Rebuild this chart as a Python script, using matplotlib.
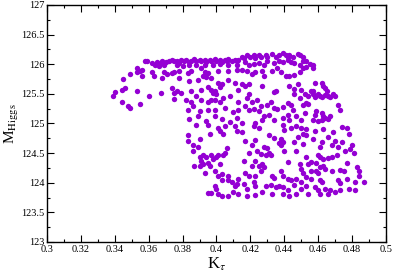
import numpy as np
import matplotlib
matplotlib.use("Agg")
import matplotlib.pyplot as plt
from matplotlib.ticker import MultipleLocator, FuncFormatter

# (K_tau, M_Higgs), grouped by region
left_arc = [
    (0.358,126.05),(0.359,126.05),(0.362,126.02),(0.364,125.99),(0.365,126.04),(0.367,126.02),
    (0.368,126.06),(0.370,126.04),(0.372,126.06),(0.374,126.07),(0.375,126.05),(0.366,125.97),
    (0.369,125.98),(0.353,125.94),(0.356,125.91),(0.353,125.87),(0.355,125.88),(0.349,125.84),
    (0.356,125.81),(0.362,125.87),(0.363,125.81),(0.369,125.87),(0.371,125.84),(0.374,125.85),
    (0.375,125.87),(0.345,125.75),(0.368,125.76),(0.346,125.60),(0.344,125.57),(0.340,125.53),
    (0.339,125.46),(0.353,125.54),(0.360,125.47),(0.367,125.51),(0.374,125.60),(0.375,125.51),
    (0.375,125.42),(0.344,125.37),(0.348,125.29),(0.349,125.26),(0.355,125.33),
]
upper_mid = [
    (0.377,126.06),(0.378,126.02),(0.379,126.08),(0.381,126.05),(0.382,126.08),(0.384,126.04),
    (0.385,126.06),(0.387,126.09),(0.388,126.05),(0.390,126.08),(0.391,126.05),(0.393,126.08),
    (0.394,126.04),(0.396,126.08),(0.397,126.05),(0.399,126.09),(0.400,126.06),(0.402,126.08),
    (0.403,126.04),(0.405,126.08),(0.406,126.05),(0.407,126.09),(0.409,126.06),(0.411,126.08),
    (0.412,126.05),(0.413,126.08),
    (0.377,125.98),(0.380,125.97),(0.384,125.98),(0.388,125.99),(0.393,125.99),(0.398,125.99),
    (0.402,126.00),(0.407,125.99),(0.412,125.99),
    (0.378,125.88),(0.383,125.85),(0.385,125.89),(0.391,125.93),(0.393,125.87),(0.392,125.81),
    (0.395,125.85),(0.401,125.89),(0.407,125.89),(0.412,125.91),(0.378,125.77),(0.384,125.71),
    (0.389,125.74),(0.394,125.78),(0.397,125.76),(0.401,125.68),(0.407,125.74),(0.411,125.68),
    (0.377,125.54),(0.379,125.51),(0.385,125.54),(0.391,125.57),(0.395,125.61),(0.397,125.57),
    (0.398,125.51),(0.399,125.55),(0.400,125.49),(0.402,125.61),(0.403,125.67),(0.413,125.57),
    (0.382,125.40),(0.385,125.36),(0.388,125.46),(0.391,125.39),(0.395,125.37),(0.397,125.39),
    (0.399,125.40),(0.402,125.37),(0.404,125.43),(0.408,125.46),(0.413,125.37),
    (0.383,125.23),(0.386,125.29),(0.390,125.21),(0.395,125.23),(0.399,125.23),(0.405,125.26),
    (0.410,125.20),(0.413,125.23),
    (0.384,125.07),(0.389,125.12),(0.394,125.04),(0.399,125.12),(0.403,125.07),(0.408,125.03),
    (0.412,125.10),
]
upper_right = [
    (0.415,126.13),(0.416,126.11),(0.418,126.16),(0.420,126.12),(0.422,126.15),(0.423,126.11),
    (0.425,126.16),(0.426,126.13),(0.429,126.16),(0.430,126.12),(0.433,126.17),(0.435,126.13),
    (0.437,126.16),(0.439,126.19),(0.441,126.15),(0.442,126.12),(0.443,126.16),(0.445,126.13),
    (0.448,126.17),(0.449,126.15),(0.451,126.13),
    (0.417,126.04),(0.419,125.99),(0.422,126.00),(0.425,126.02),(0.428,125.99),(0.430,126.05),
    (0.434,126.02),(0.437,126.05),(0.439,126.04),(0.442,126.08),(0.444,126.04),(0.446,126.02),
    (0.449,125.99),(0.451,126.05),
    (0.415,125.91),(0.418,125.88),(0.421,125.84),(0.423,125.87),(0.427,125.88),(0.428,125.81),
    (0.433,125.89),(0.436,125.93),(0.438,125.87),(0.441,125.81),(0.443,125.80),(0.446,125.82),
    (0.449,125.87),(0.451,125.93),
    (0.415,125.66),(0.417,125.64),(0.419,125.67),(0.427,125.64),(0.434,125.53),(0.435,125.55),
    (0.443,125.63),(0.446,125.59),(0.448,125.66),(0.450,125.57),(0.452,125.49),(0.446,125.49),
    (0.449,125.43),
    (0.418,125.43),(0.419,125.49),(0.421,125.36),(0.424,125.40),(0.426,125.29),(0.430,125.32),
    (0.432,125.37),(0.434,125.26),(0.436,125.25),(0.439,125.27),(0.442,125.35),(0.444,125.31),
    (0.445,125.23),(0.451,125.32),
    (0.417,125.29),(0.419,125.23),(0.422,125.25),(0.425,125.21),(0.428,125.12),(0.431,125.15),
    (0.434,125.06),(0.439,125.09),(0.442,125.15),(0.443,125.06),(0.447,125.12),(0.450,125.06),
    (0.452,125.18),(0.415,125.01),(0.423,125.01),(0.427,125.06),
]
upper_edge = [
    (0.453,126.06),(0.455,126.00),(0.457,125.98),(0.457,125.93),(0.453,125.95),
    (0.458,125.68),(0.462,125.68),(0.463,125.64),(0.464,125.60),(0.456,125.54),(0.457,125.55),
    (0.454,125.46),(0.457,125.49),(0.458,125.44),(0.460,125.49),(0.461,125.46),(0.462,125.44),
    (0.464,125.48),(0.466,125.46),(0.467,125.44),(0.469,125.49),(0.470,125.46),(0.465,125.55),
    (0.472,125.31),(0.473,125.23),(0.453,125.35),(0.454,125.33),
    (0.459,125.21),(0.458,125.15),(0.462,125.18),(0.463,125.12),(0.457,125.06),(0.460,125.05),
    (0.462,125.06),(0.464,125.09),(0.466,125.08),(0.467,125.12),
]
lower_left = [
    (0.388,124.98),(0.395,124.98),(0.401,124.92),(0.405,124.96),(0.411,124.96),(0.402,124.87),
    (0.404,124.83),(0.412,124.87),(0.396,124.83),(0.383,124.80),(0.390,124.74),(0.383,124.71),
    (0.386,124.64),(0.389,124.61),(0.386,124.53),(0.392,124.47),(0.394,124.43),(0.397,124.46),
    (0.398,124.40),(0.400,124.44),(0.401,124.47),(0.404,124.46),(0.406,124.59),(0.405,124.51),
    (0.390,124.44),(0.391,124.36),(0.390,124.29),(0.387,124.29),(0.392,124.31),(0.395,124.33),
    (0.396,124.29),(0.402,124.32),(0.393,124.16),(0.399,124.19),(0.401,124.12),(0.403,124.15),
    (0.407,124.12),(0.407,124.05),(0.403,124.04),(0.399,123.95),(0.400,123.89),(0.397,123.82),
    (0.395,123.82),(0.401,123.81),(0.403,123.77),(0.407,123.78),(0.410,123.84),(0.413,123.81),
    (0.411,123.95),(0.409,124.01),(0.413,124.06),(0.412,123.98),
]
lower_mid = [
    (0.422,124.96),(0.425,124.92),(0.439,124.98),(0.440,124.89),(0.444,124.92),(0.447,124.96),
    (0.450,124.92),(0.451,124.82),(0.448,124.78),(0.415,124.85),(0.417,124.71),(0.423,124.72),
    (0.421,124.64),(0.428,124.61),(0.430,124.59),(0.431,124.51),(0.432,124.47),(0.429,124.46),
    (0.419,124.50),(0.424,124.54),(0.426,124.49),(0.437,124.67),(0.438,124.63),(0.440,124.54),
    (0.438,124.74),(0.439,124.68),(0.431,124.80),(0.434,124.76),(0.446,124.68),(0.447,124.54),
    (0.451,124.65),(0.416,124.37),(0.421,124.29),(0.423,124.37),(0.425,124.29),(0.426,124.20),
    (0.427,124.32),(0.428,124.26),(0.417,124.16),(0.419,124.12),(0.423,124.12),(0.433,124.12),
    (0.434,124.08),(0.438,124.20),(0.439,124.12),(0.442,124.35),(0.442,124.06),(0.444,124.04),
    (0.447,124.06),(0.449,124.32),(0.450,124.23),(0.451,124.16),(0.450,124.01),(0.416,123.98),
    (0.418,123.89),(0.422,124.01),(0.423,123.95),(0.429,123.95),(0.432,123.97),(0.435,123.92),
    (0.437,123.95),(0.439,123.93),(0.442,123.87),(0.446,123.97),(0.450,123.89),(0.423,123.80),
    (0.427,123.84),(0.433,123.81),(0.439,123.81),(0.443,123.78),(0.447,123.81),(0.418,123.78),
]
lower_right = [
    (0.453,124.91),(0.458,124.88),(0.463,124.91),(0.469,124.85),(0.474,124.94),(0.477,124.92),
    (0.478,124.83),(0.453,124.80),(0.457,124.74),(0.462,124.68),(0.466,124.77),(0.468,124.63),
    (0.470,124.71),(0.472,124.60),(0.474,124.68),(0.480,124.63),(0.479,124.57),(0.481,124.51),
    (0.476,124.54),(0.461,124.60),(0.453,124.43),(0.456,124.35),(0.460,124.47),(0.461,124.43),
    (0.463,124.40),(0.466,124.42),(0.468,124.43),(0.471,124.46),(0.454,124.32),(0.459,124.33),
    (0.461,124.27),(0.463,124.29),(0.464,124.23),(0.456,124.20),(0.459,124.19),(0.460,124.16),
    (0.468,124.20),(0.473,124.22),(0.475,124.20),(0.477,124.33),(0.483,124.27),(0.484,124.20),
    (0.484,124.12),(0.453,124.09),(0.456,124.06),(0.461,124.05),(0.462,124.01),(0.472,124.04),
    (0.473,123.99),(0.477,124.06),(0.482,124.01),(0.487,124.02),(0.453,123.95),(0.458,123.92),
    (0.460,123.87),(0.464,123.89),(0.467,123.87),(0.470,123.84),(0.473,123.87),(0.478,123.89),
    (0.482,123.87),(0.454,123.81),(0.461,123.81),(0.466,123.81),
]

pts = np.array(left_arc + upper_mid + upper_right + upper_edge +
               lower_left + lower_mid + lower_right)

plt.rcParams['font.family'] = 'Liberation Serif'
plt.rcParams['mathtext.fontset'] = 'stix'

fig = plt.figure(figsize=(3.93, 2.73), dpi=100)
ax = fig.add_axes([0.1196, 0.1136, 0.8624, 0.8681])
ax.scatter(pts[:, 0], pts[:, 1], s=15, color='#9400d3', linewidths=0, zorder=3)

ax.set_xlim(0.3, 0.5)
ax.set_ylim(123, 127)
ax.xaxis.set_major_locator(MultipleLocator(0.02))
ax.xaxis.set_minor_locator(MultipleLocator(0.01))
ax.yaxis.set_major_locator(MultipleLocator(0.5))
ax.yaxis.set_minor_locator(MultipleLocator(0.25))
fmt = FuncFormatter(lambda v, p: '%g' % round(v, 3))
ax.xaxis.set_major_formatter(fmt)
ax.yaxis.set_major_formatter(fmt)
ax.tick_params(which='both', direction='in', top=True, right=True, width=0.8, labelsize=7.5)
ax.tick_params(which='major', length=5, pad=2)
ax.tick_params(which='minor', length=2.5)
for s in ax.spines.values():
    s.set_linewidth(1.0)

ax.set_xlabel(r'K$_\tau$', fontsize=12, labelpad=1)
ax.set_ylabel(r'M$_{\rm Higgs}$', fontsize=11)
ax.yaxis.set_label_coords(-0.078, 0.5)

fig.savefig('out.png', dpi=100)
